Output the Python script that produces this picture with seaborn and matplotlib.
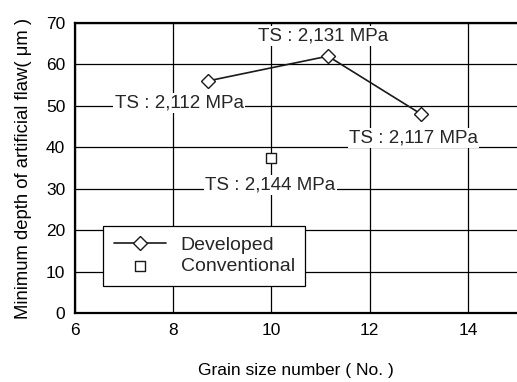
import matplotlib
matplotlib.use("Agg")
import matplotlib.pyplot as plt
import seaborn as sns
import pandas as pd

dev_x = [8.7, 11.15, 13.05]
dev_y = [56.0, 62.0, 48.0]
conv_x = [10.0]
conv_y = [37.5]
dev_ts = ["TS : 2,112 MPa", "TS : 2,131 MPa", "TS : 2,117 MPa"]
conv_ts = ["TS : 2,144 MPa"]
x_ticks = [6, 8, 10, 12, 14]
y_ticks = [0, 10, 20, 30, 40, 50, 60, 70]

sns.set_theme(style="white")
plt.rcParams['font.family'] = ['Liberation Sans', 'DejaVu Sans']

fig = plt.figure(figsize=(5.17, 3.82), dpi=100)
ax = fig.add_axes([75/517, 1-313/382, 1-75/517, (313-23)/382])

df_dev = pd.DataFrame({"x": dev_x, "y": dev_y})
df_conv = pd.DataFrame({"x": conv_x, "y": conv_y})

ax.set_xlim(6, 15)
ax.set_ylim(0, 70)
ax.set_xticks(x_ticks)
ax.set_yticks(y_ticks)
ax.grid(True, color="black", linewidth=0.9)
ax.set_axisbelow(True)

sns.lineplot(data=df_dev, x="x", y="y", ax=ax, color="#1a1a1a", linewidth=1.2,
             marker="D", markersize=7.5, markerfacecolor="white",
             markeredgecolor="#1a1a1a", markeredgewidth=1.0, label="Developed", zorder=4)
sns.scatterplot(data=df_conv, x="x", y="y", ax=ax, marker="s", s=60,
                facecolor="white", edgecolor="#1a1a1a", linewidth=1.0,
                label="Conventional", zorder=4)

fs = 13.5
bb = dict(facecolor="white", edgecolor="none", pad=1)
ax.text(6.81, 50.7, dev_ts[0], fontsize=fs, ha="left", va="center", bbox=bb, zorder=3)
ax.text(9.73, 66.9, dev_ts[1], fontsize=fs, ha="left", va="center", bbox=bb, zorder=3)
ax.text(11.58, 42.2, dev_ts[2], fontsize=fs, ha="left", va="center", bbox=bb, zorder=3)
ax.text(8.65, 30.9, conv_ts[0], fontsize=fs, ha="left", va="center", bbox=bb, zorder=3)

for s in ["left", "bottom", "top"]:
    ax.spines[s].set_visible(True)
    ax.spines[s].set_color("black")
    ax.spines[s].set_linewidth(1.6)
ax.spines["right"].set_visible(False)

ax.tick_params(axis="both", length=0, labelsize=12.5, colors="black", pad=7)
ax.set_xlabel("Grain size number ( No. )", fontsize=12.5, labelpad=18, color="black")
ax.set_ylabel("Minimum depth of artificial flaw( μm )", fontsize=13.3, labelpad=10, color="black")

leg = ax.legend(loc="lower left", bbox_to_anchor=(0.063, 0.093), fontsize=14,
                frameon=True, fancybox=False, framealpha=1, edgecolor="black",
                borderpad=0.55, handlelength=2.7, handletextpad=0.75, labelspacing=0.2,
                borderaxespad=0)
leg.get_frame().set_linewidth(0.9)
leg.set_zorder(5)

fig.savefig("out.png", dpi=100)
